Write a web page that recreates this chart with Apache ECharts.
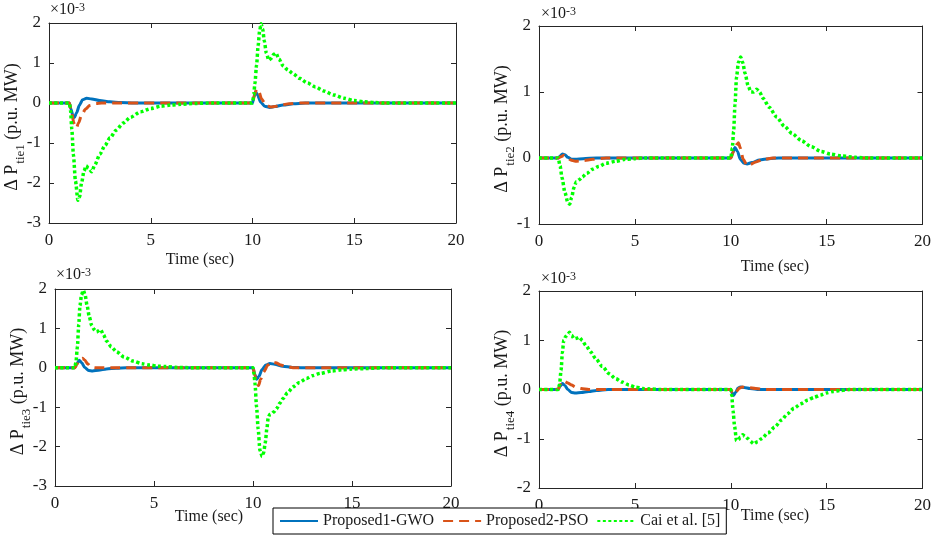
<!DOCTYPE html>
<html>
<head>
<meta charset="utf-8">
<script src="https://cdn.jsdelivr.net/npm/echarts@6/dist/echarts.min.js"></script>
<style>
html,body{margin:0;padding:0;background:#fff;}
#c{width:934px;height:541px;}
</style>
</head>
<body>
<div id="c"></div>
<script>
// ---------------- DATA (values in units of 1e-3 p.u. MW, time in s) ----------------
const seriesNames = ['Proposed1-GWO', 'Proposed2-PSO', 'Cai et al. [5]'];
const xTicks = [0, 5, 10, 15, 20];
const yRanges = [[-3, 2], [-1, 2], [-3, 2], [-2, 2]];
const yLabelSubs = ['tie1', 'tie2', 'tie3', 'tie4'];

const gwoTie1 = [[0,0],[1.0,0],[1.08,-0.15],[1.18,-0.33],[1.25,-0.36],[1.35,-0.25],[1.5,-0.05],[1.65,0.08],[1.85,0.12],[2.1,0.1],[2.5,0.06],[3,0.03],[3.5,0.01],[4.2,0],[10,0],[10.07,0.15],[10.15,0.28],[10.25,0.2],[10.4,0.02],[10.6,-0.08],[10.85,-0.11],[11.1,-0.09],[11.5,-0.05],[12,-0.02],[12.6,0],[20,0]];
const psoTie1 = [[0,0],[1.0,0],[1.1,-0.2],[1.22,-0.5],[1.35,-0.62],[1.45,-0.5],[1.6,-0.3],[1.8,-0.15],[2.0,-0.06],[2.3,-0.01],[2.6,0],[10,0],[10.1,0.2],[10.2,0.35],[10.3,0.3],[10.45,0.1],[10.65,-0.05],[10.9,-0.1],[11.1,-0.09],[11.4,-0.05],[11.8,-0.02],[12.3,0],[20,0]];
const caiTie1 = [[0,0],[1.0,0],[1.06,-0.2],[1.12,-0.65],[1.2,-1.3],[1.3,-1.95],[1.42,-2.43],[1.5,-2.35],[1.6,-2.0],[1.72,-1.7],[1.82,-1.57],[1.95,-1.63],[2.1,-1.72],[2.25,-1.55],[2.5,-1.28],[2.75,-1.06],[3.0,-0.87],[3.3,-0.68],[3.65,-0.5],[4.0,-0.36],[4.5,-0.22],[5.0,-0.14],[5.5,-0.08],[6.0,-0.05],[6.5,-0.03],[7.2,-0.01],[8,0],[10,0],[10.06,0.2],[10.12,0.5],[10.2,0.95],[10.28,1.45],[10.35,1.8],[10.42,1.98],[10.5,1.85],[10.58,1.55],[10.68,1.25],[10.8,1.07],[10.92,1.12],[11.05,1.22],[11.15,1.25],[11.3,1.1],[11.5,0.93],[11.75,0.82],[12.0,0.73],[12.3,0.62],[12.7,0.5],[13.1,0.4],[13.5,0.3],[14.0,0.2],[14.5,0.12],[15.0,0.06],[15.5,0.03],[16.0,0.01],[16.5,0],[20,0]];

const gwoTie2 = [[0,0],[1.0,0],[1.1,0.03],[1.22,0.06],[1.35,0.05],[1.5,0.01],[1.7,-0.02],[1.9,-0.02],[2.3,-0.01],[3,0],[10,0],[10.1,0.08],[10.22,0.16],[10.35,0.1],[10.5,-0.02],[10.7,-0.08],[10.85,-0.09],[11.1,-0.07],[11.5,-0.03],[12,-0.01],[12.5,0],[20,0]];
const psoTie2 = [[0,0],[1.0,0],[1.15,0.02],[1.3,0.04],[1.45,0.01],[1.65,-0.03],[1.9,-0.05],[2.3,-0.04],[2.8,-0.02],[3.5,0],[10,0],[10.15,0.1],[10.3,0.2],[10.4,0.23],[10.5,0.15],[10.65,-0.02],[10.85,-0.11],[11.0,-0.1],[11.3,-0.06],[11.7,-0.02],[12.2,0],[20,0]];
const caiTie2 = [[0,0],[1.0,0],[1.1,-0.12],[1.2,-0.3],[1.35,-0.52],[1.5,-0.67],[1.6,-0.7],[1.7,-0.6],[1.82,-0.45],[1.95,-0.36],[2.1,-0.33],[2.25,-0.29],[2.5,-0.23],[2.8,-0.17],[3.1,-0.13],[3.5,-0.08],[4.0,-0.05],[4.5,-0.02],[5.0,-0.01],[5.5,0],[10,0],[10.08,0.15],[10.15,0.4],[10.22,0.8],[10.3,1.22],[10.4,1.45],[10.52,1.53],[10.62,1.45],[10.75,1.28],[10.9,1.1],[11.05,1.0],[11.2,1.0],[11.35,1.04],[11.5,1.0],[11.7,0.9],[12.0,0.77],[12.4,0.62],[12.8,0.48],[13.2,0.37],[13.7,0.26],[14.2,0.17],[14.7,0.1],[15.2,0.06],[15.8,0.03],[16.5,0.01],[17.2,0],[20,0]];

const gwoTie3 = [[0,0],[1.0,0],[1.1,0.1],[1.22,0.19],[1.35,0.13],[1.5,0.01],[1.7,-0.07],[1.9,-0.08],[2.2,-0.06],[2.6,-0.03],[3.1,-0.01],[3.6,0],[10,0],[10.08,-0.15],[10.18,-0.29],[10.3,-0.22],[10.45,-0.05],[10.65,0.07],[10.85,0.11],[11.1,0.09],[11.5,0.04],[12,0.01],[12.5,0],[20,0]];
const psoTie3 = [[0,0],[1.0,0],[1.12,0.1],[1.25,0.2],[1.38,0.24],[1.5,0.2],[1.65,0.1],[1.8,0.03],[2.0,0],[10,0],[10.1,-0.2],[10.2,-0.42],[10.28,-0.45],[10.38,-0.3],[10.55,-0.1],[10.75,0.07],[10.95,0.15],[11.15,0.13],[11.4,0.07],[11.7,0.03],[12.1,0],[20,0]];
const caiTie3 = [[0,0],[1.0,0],[1.06,0.15],[1.13,0.53],[1.2,1.1],[1.26,1.58],[1.34,1.85],[1.43,1.97],[1.52,1.85],[1.62,1.58],[1.73,1.3],[1.85,1.08],[1.98,0.97],[2.1,0.91],[2.2,0.94],[2.3,0.97],[2.45,0.84],[2.6,0.68],[2.85,0.53],[3.1,0.41],[3.5,0.27],[3.95,0.17],[4.4,0.1],[4.8,0.07],[5.2,0.04],[5.6,0.03],[6.2,0.01],[7,0],[10,0],[10.05,-0.15],[10.1,-0.4],[10.18,-0.99],[10.26,-1.55],[10.35,-2.09],[10.46,-2.25],[10.54,-2.15],[10.62,-1.9],[10.7,-1.55],[10.77,-1.26],[10.85,-1.18],[10.95,-1.16],[11.05,-1.12],[11.2,-1.03],[11.35,-0.9],[11.52,-0.78],[11.75,-0.63],[12.03,-0.48],[12.35,-0.37],[12.7,-0.27],[13.0,-0.2],[13.4,-0.14],[14.0,-0.08],[14.5,-0.05],[15.0,-0.03],[15.7,-0.02],[16.5,0],[20,0]];

const gwoTie4 = [[0,0],[1.0,0],[1.1,0.07],[1.22,0.12],[1.35,0.08],[1.5,0],[1.7,-0.06],[1.9,-0.07],[2.2,-0.06],[2.6,-0.04],[3.0,-0.02],[3.6,0],[10,0],[10.07,-0.07],[10.15,-0.12],[10.25,-0.06],[10.38,0.03],[10.5,0.05],[10.7,0.04],[11,0.02],[11.5,0],[20,0]];
const psoTie4 = [[0,0],[1.0,0],[1.1,0.1],[1.22,0.17],[1.35,0.16],[1.5,0.13],[1.7,0.09],[1.9,0.05],[2.2,0.02],[2.6,0],[10,0],[10.1,-0.06],[10.2,-0.1],[10.3,-0.04],[10.45,0.03],[10.6,0.05],[10.9,0.04],[11.3,0.02],[11.8,0],[20,0]];
const caiTie4 = [[0,0],[1.0,0],[1.07,0.1],[1.15,0.39],[1.22,0.75],[1.29,1.0],[1.4,1.08],[1.5,1.12],[1.59,1.16],[1.7,1.1],[1.84,1.03],[1.97,1.04],[2.1,1.06],[2.25,1.0],[2.45,0.89],[2.7,0.76],[2.97,0.62],[3.3,0.47],[3.66,0.32],[4.0,0.22],[4.34,0.15],[4.7,0.09],[5.03,0.05],[5.4,0.02],[5.8,0.01],[6.3,0],[10,0],[10.05,-0.12],[10.12,-0.43],[10.2,-0.75],[10.3,-1.04],[10.4,-1.02],[10.5,-0.97],[10.62,-0.92],[10.75,-0.95],[10.9,-1.0],[11.05,-1.06],[11.2,-1.1],[11.4,-1.06],[11.6,-1.0],[11.95,-0.88],[12.3,-0.76],[12.65,-0.62],[12.97,-0.49],[13.3,-0.38],[13.66,-0.29],[14.0,-0.22],[14.34,-0.16],[14.7,-0.11],[15.0,-0.07],[15.35,-0.04],[15.7,-0.02],[16.2,0],[20,0]];

const panelData = [
  [gwoTie1, psoTie1, caiTie1],
  [gwoTie2, psoTie2, caiTie2],
  [gwoTie3, psoTie3, caiTie3],
  [gwoTie4, psoTie4, caiTie4]
];

// ---------------- LAYOUT / STYLE ----------------
const FONT = "'Liberation Serif','Times New Roman',serif";
const TXT = '#1a1a1a';
const AX = '#262626';
const grids = [
  {left: 49, top: 23, width: 407, height: 200},
  {left: 539, top: 26, width: 386, height: 198},
  {left: 55, top: 289, width: 396, height: 197},
  {left: 539, top: 291, width: 387, height: 197}
];
const timeLabelPos = [[200, 260], [775, 267], [209, 517], [775, 516]];
const expPos = [[50, 10], [541, 14], [56, 275], [541, 279]];
const colors = ['#0072BD', '#D95319', '#00FF00'];
const lineStyles = [
  {width: 3, type: 'solid'},
  {width: 3, type: [10, 6]},
  {width: 3.5, type: [3, 2.5]}
];

const xAxes = [], yAxes = [], series = [], graphics = [];
grids.forEach((g, i) => {
  const [ymin, ymax] = yRanges[i];
  const common = () => ({
    axisLine: {show: true, onZero: false, lineStyle: {color: AX, width: 1}},
    axisTick: {show: true, inside: true, length: 5, lineStyle: {color: AX}},
    splitLine: {show: false}
  });
  xAxes.push(Object.assign({gridIndex: i, type: 'value', min: xTicks[0], max: xTicks[xTicks.length-1], interval: 5, position: 'bottom',
    axisLabel: {show: true, margin: 9, fontFamily: FONT, fontSize: 17, color: TXT}}, common()));
  xAxes.push(Object.assign({gridIndex: i, type: 'value', min: 0, max: 20, interval: 5, position: 'top',
    axisLabel: {show: false}}, common()));
  yAxes.push(Object.assign({gridIndex: i, type: 'value', min: ymin, max: ymax, interval: 1, position: 'left',
    axisLabel: {show: true, margin: 8, fontFamily: FONT, fontSize: 17, color: TXT}}, common()));
  yAxes.push(Object.assign({gridIndex: i, type: 'value', min: ymin, max: ymax, interval: 1, position: 'right',
    axisLabel: {show: false}}, common()));
  panelData[i].forEach((d, k) => {
    series.push({
      name: seriesNames[k], type: 'line', xAxisIndex: 2*i, yAxisIndex: 2*i,
      data: d, showSymbol: false, symbol: 'none', smooth: 0.25, smoothMonotone: 'x',
      lineStyle: Object.assign({color: colors[k]}, lineStyles[k]),
      itemStyle: {color: colors[k]}, z: 2 + k, animation: false
    });
  });
  graphics.push({
    type: 'text', x: timeLabelPos[i][0], y: timeLabelPos[i][1],
    style: {text: 'Time (sec)', fontFamily: FONT, fontSize: 16, fill: TXT, align: 'center', verticalAlign: 'middle'}
  });
  graphics.push({
    type: 'text', x: g.left - 37, y: g.top + g.height/2 + 4, rotation: Math.PI/2,
    style: {
      text: '{m|Δ P}{s|' + yLabelSubs[i] + '}{m| (p.u. MW)}',
      align: 'center', verticalAlign: 'middle', fill: TXT, fontFamily: FONT,
      rich: {
        m: {fontFamily: FONT, fontSize: 18, lineHeight: 18, verticalAlign: 'top', fill: TXT},
        s: {fontFamily: FONT, fontSize: 13, lineHeight: 13, padding: [11, 0, 0, 1], verticalAlign: 'top', fill: TXT}
      }
    }
  });
  graphics.push({
    type: 'text', x: expPos[i][0], y: expPos[i][1],
    style: {
      text: '{a|×10}{b|-3}', align: 'left', verticalAlign: 'middle', fill: TXT, fontFamily: FONT,
      rich: {
        a: {fontFamily: FONT, fontSize: 16, lineHeight: 16, padding: [6, 0, 0, 0], verticalAlign: 'bottom', fill: TXT},
        b: {fontFamily: FONT, fontSize: 12, lineHeight: 12, verticalAlign: 'top', fill: TXT}
      }
    }
  });
});

const chart = echarts.init(document.getElementById('c'), null, {renderer: 'canvas'});
chart.setOption({
  animation: false,
  backgroundColor: '#fff',
  grid: grids.map(g => Object.assign({containLabel: false}, g)),
  xAxis: xAxes,
  yAxis: yAxes,
  legend: {
    data: seriesNames, left: 273, top: 508, orient: 'horizontal',
    padding: [5, 6], itemGap: 8, itemWidth: 38, itemHeight: 14,
    borderColor: '#000', borderWidth: 1, backgroundColor: '#fff',
    itemStyle: {opacity: 0, borderWidth: 0},
    textStyle: {fontFamily: FONT, fontSize: 16, color: TXT},
    z: 10
  },
  graphic: graphics,
  series: series
});
</script>
</body>
</html>
